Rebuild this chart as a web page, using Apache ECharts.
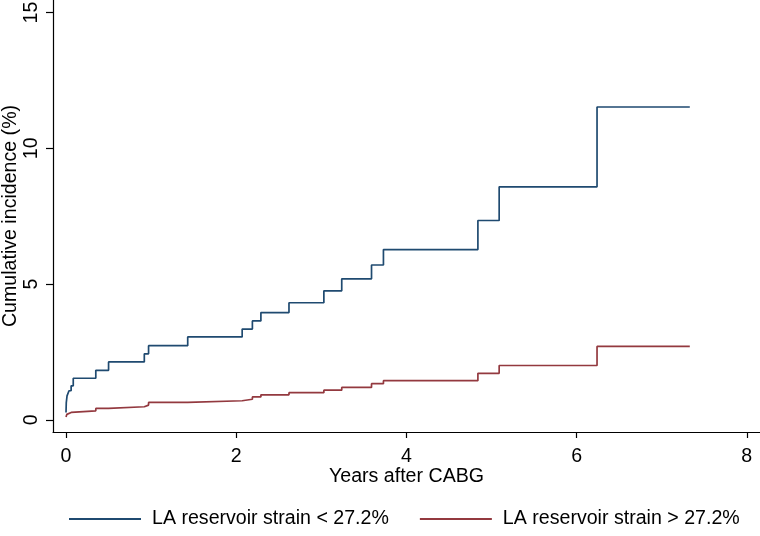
<!DOCTYPE html>
<html>
<head>
<meta charset="utf-8">
<script src="https://cdn.jsdelivr.net/npm/echarts@6/dist/echarts.min.js"></script>
<style>
html,body{margin:0;padding:0;background:#fff;}
#chart{width:760px;height:536px;}
</style>
</head>
<body>
<div id="chart"></div>
<script>
// Data (years after CABG, cumulative incidence %)
const lowStrainTimes  = [0, 0.003, 0.012, 0.035, 0.06, 0.085, 0.35, 0.50, 0.92, 0.97, 1.43, 2.07, 2.19, 2.29, 2.62, 3.03, 3.24, 3.59, 3.73, 4.84, 5.09, 6.24, 7.33];
const lowStrainValues = [0.27, 0.63, 0.88, 1.07, 1.25, 1.53, 1.82, 2.13, 2.43, 2.73, 3.05, 3.34, 3.64, 3.95, 4.31, 4.75, 5.19, 5.70, 6.27, 7.34, 8.58, 11.52, 11.52];
const highStrainTimes  = [0, 0.01, 0.03, 0.06, 0.35, 0.50, 0.92, 0.97, 1.43, 2.07, 2.19, 2.29, 2.62, 3.03, 3.24, 3.59, 3.73, 4.84, 5.09, 6.24, 7.33];
const highStrainValues = [0.10, 0.20, 0.27, 0.33, 0.42, 0.48, 0.54, 0.64, 0.70, 0.755, 0.84, 0.92, 1.00, 1.09, 1.19, 1.33, 1.44, 1.71, 2.00, 2.70, 2.70];
const seriesNames = ['LA reservoir strain < 27.2%', 'LA reservoir strain > 27.2%'];
const xTickValues = [0, 2, 4, 6, 8];
const yTickValues = [0, 5, 10, 15];
const xTitle = 'Years after CABG';
const yTitle = 'Cumulative incidence (%)';

const pairs = (ts, vs) => ts.map((t, i) => [t, vs[i]]);
const FONT = 'Liberation Sans, Arial, Helvetica, sans-serif';
const FS = 19.6;

const chart = echarts.init(document.getElementById('chart'), null, {renderer: 'canvas'});
chart.setOption({
  backgroundColor: '#ffffff',
  animation: false,
  textStyle: {fontFamily: FONT, color: '#000'},
  grid: {left: 53, right: 0, top: 0, bottom: 104, containLabel: false, outerBoundsMode: 'none'},
  legend: {
    left: 69,
    top: 509,
    padding: 0,
    itemWidth: 72,
    itemHeight: 2,
    itemGap: 31,
    icon: 'rect',
    textStyle: {fontFamily: FONT, fontSize: FS, color: '#000', padding: [0, 0, 0, 6]},
    data: seriesNames
  },
  xAxis: {
    type: 'value',
    min: -0.153,
    max: 8.155,
    name: xTitle,
    nameLocation: 'middle',
    nameGap: 35,
    nameMoveOverlap: false,
    nameTextStyle: {fontFamily: FONT, fontSize: FS, color: '#000'},
    axisLine: {show: true, onZero: false, lineStyle: {color: '#000', width: 1.2}},
    axisTick: {show: true, length: 6, lineStyle: {color: '#000', width: 1.2}, customValues: xTickValues},
    axisLabel: {fontFamily: FONT, fontSize: FS, color: '#000', margin: 15, customValues: xTickValues},
    splitLine: {show: false}
  },
  yAxis: {
    type: 'value',
    min: -0.45,
    max: 15.46,
    name: yTitle,
    nameLocation: 'middle',
    nameGap: 32,
    nameMoveOverlap: false,
    nameTextStyle: {fontFamily: FONT, fontSize: FS, color: '#000'},
    axisLine: {show: true, onZero: false, lineStyle: {color: '#000', width: 1.2}},
    axisTick: {show: true, length: 7, lineStyle: {color: '#000', width: 1.2}, customValues: yTickValues},
    axisLabel: {fontFamily: FONT, fontSize: FS, color: '#000', margin: 11, rotate: 90, customValues: yTickValues},
    splitLine: {show: false}
  },
  series: [
    {
      name: seriesNames[0],
      type: 'line',
      step: 'end',
      showSymbol: false,
      color: '#1f4a70',
      lineStyle: {width: 1.7, color: '#1f4a70'},
      data: pairs(lowStrainTimes, lowStrainValues)
    },
    {
      name: seriesNames[1],
      type: 'line',
      step: 'end',
      showSymbol: false,
      color: '#93393f',
      lineStyle: {width: 1.7, color: '#93393f'},
      data: pairs(highStrainTimes, highStrainValues)
    }
  ]
});
</script>
</body>
</html>
